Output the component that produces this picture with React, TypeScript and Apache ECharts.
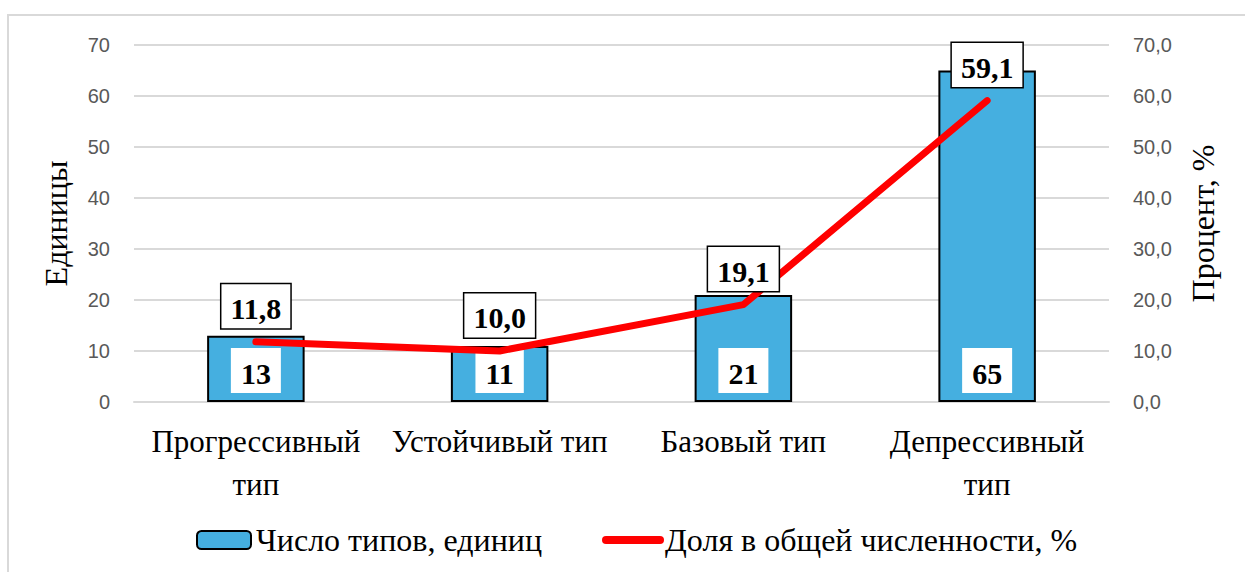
import React, { useEffect, useRef } from "react";
import * as echarts from "echarts";

const categories = ["Прогрессивный\nтип", "Устойчивый тип", "Базовый тип", "Депрессивный\nтип"];
const countValues = [13, 11, 21, 65];
const shareValues = [11.8, 10.0, 19.1, 59.1];
const seriesNames = ["Число типов, единиц", "Доля в общей численности, %"];
const leftAxisName = "Единицы";
const rightAxisName = "Процент, %";

const SERIF = "Liberation Serif";
const SANS = "Liberation Sans";

export default function App() {
  const ref = useRef<HTMLDivElement>(null);
  useEffect(() => {
    if (!ref.current) return;
    const chart = echarts.init(ref.current, undefined, { renderer: "svg" });
    const comma = (v: number) => v.toFixed(1).replace(".", ",");
    chart.setOption({
      animation: false,
      backgroundColor: "#fff",
      textStyle: { fontFamily: SERIF },
      graphic: [
        {
          type: "rect",
          silent: true,
          z: -10,
          shape: { x: 8, y: 15, width: 1400, height: 800 },
          style: { fill: "none", stroke: "#d9d9d9", lineWidth: 2 },
        },
      ],
      grid: { left: 134, right: 136, top: 45, bottom: 170, containLabel: false },
      legend: {
        top: 519,
        left: 191,
        itemWidth: 54,
        itemHeight: 18,
        itemGap: 60,
        textStyle: { fontFamily: SERIF, fontSize: 32, color: "#000", padding: [0, 0, 0, 0] },
        data: [
          { name: seriesNames[0] },
          { name: seriesNames[1], itemStyle: { opacity: 0 }, lineStyle: { width: 8, cap: "round" } },
        ],
      },
      xAxis: {
        type: "category",
        data: categories,
        axisLine: { lineStyle: { color: "#d9d9d9", width: 2 } },
        axisTick: { show: false },
        axisLabel: { fontFamily: SERIF, fontSize: 31, lineHeight: 43, color: "#000", margin: 18, interval: 0 },
      },
      yAxis: [
        {
          type: "value",
          min: 0,
          max: 70,
          interval: 10,
          name: leftAxisName,
          nameLocation: "middle",
          nameGap: 62,
          nameRotate: 90,
          nameTextStyle: { fontFamily: SERIF, fontSize: 32, color: "#000" },
          axisLine: { show: false },
          axisTick: { show: false },
          axisLabel: { fontFamily: SANS, fontSize: 20, color: "#595959", margin: 24 },
          splitLine: { lineStyle: { color: "#d9d9d9", width: 2 } },
        },
        {
          type: "value",
          min: 0,
          max: 70,
          interval: 10,
          name: rightAxisName,
          nameLocation: "middle",
          nameGap: 78,
          nameRotate: 90,
          nameTextStyle: { fontFamily: SERIF, fontSize: 32, color: "#000" },
          axisLine: { show: false },
          axisTick: { show: false },
          axisLabel: { fontFamily: SANS, fontSize: 20, color: "#595959", margin: 24, formatter: (v: number) => comma(v) },
          splitLine: { show: false },
        },
      ],
      series: [
        {
          name: seriesNames[0],
          type: "bar",
          data: countValues,
          barWidth: "40%",
          itemStyle: { color: "#45AFE0", borderColor: "#000", borderWidth: 2 },
          label: {
            show: true,
            position: "insideBottom",
            distance: 9,
            formatter: "{c}",
            backgroundColor: "#fff",
            padding: [10, 10, 5, 10],
            fontFamily: SERIF,
            fontWeight: "bold",
            fontSize: 30,
            color: "#000",
          },
        },
        {
          name: seriesNames[1],
          type: "line",
          yAxisIndex: 1,
          data: shareValues,
          symbol: "circle",
          symbolSize: 1,
          itemStyle: { color: "#FF0000" },
          lineStyle: { color: "#FF0000", width: 7, cap: "round", join: "round" },
          z: 3,
          label: {
            show: true,
            position: "top",
            distance: 13,
            formatter: (p: any) => comma(p.value),
            backgroundColor: "#fff",
            borderColor: "#000",
            borderWidth: 1.5,
            padding: [9, 9, 5, 9],
            fontFamily: SERIF,
            fontWeight: "bold",
            fontSize: 30,
            color: "#000",
          },
        },
      ],
    });
    return () => chart.dispose();
  }, []);
  return <div ref={ref} style={{ position: "fixed", left: 0, top: 0, width: 1245, height: 572 }} />;
}
